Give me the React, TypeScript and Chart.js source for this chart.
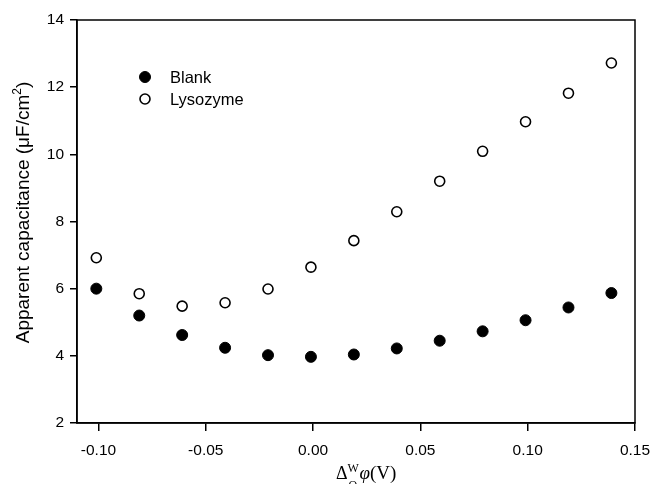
import React, { useEffect, useRef } from "react";
import { Chart, registerables } from "chart.js";

Chart.register(...registerables);

const potentials = [-0.101, -0.081, -0.061, -0.041, -0.021, -0.001, 0.019, 0.039, 0.059, 0.079, 0.099, 0.119, 0.139];
const blankValues = [6.0, 5.2, 4.62, 4.24, 4.02, 3.97, 4.04, 4.22, 4.45, 4.73, 5.06, 5.44, 5.87];
const lysozymeValues = [6.92, 5.85, 5.48, 5.58, 5.99, 6.64, 7.43, 8.29, 9.2, 10.09, 10.97, 11.82, 12.72];
const xTickValues = [-0.1, -0.05, 0, 0.05, 0.1, 0.15];
const yTickValues = [2, 4, 6, 8, 10, 12, 14];
const seriesNames = ["Blank", "Lysozyme"];

const SANS = "'Liberation Sans', Arial, sans-serif";
const SERIF = "'Liberation Serif', 'DejaVu Serif', serif";

const framePlugin = {
  id: "frame",
  afterDraw(chart: any) {
    const { ctx, chartArea } = chart;
    ctx.save();
    ctx.strokeStyle = "#000";
    ctx.lineWidth = 1.5;
    ctx.strokeRect(chartArea.left, chartArea.top, chartArea.right - chartArea.left, chartArea.bottom - chartArea.top);

    // legend
    const items = chart.data.datasets;
    const lx = chartArea.left + 68;
    let ly = chartArea.top + 57;
    ctx.font = `16.5px ${SANS}`;
    ctx.textBaseline = "middle";
    ctx.textAlign = "left";
    items.forEach((ds: any) => {
      ctx.beginPath();
      ctx.arc(lx, ly, ds.pointRadius, 0, Math.PI * 2);
      ctx.fillStyle = ds.pointBackgroundColor;
      ctx.fill();
      ctx.lineWidth = ds.pointBorderWidth;
      ctx.strokeStyle = ds.pointBorderColor;
      ctx.stroke();
      ctx.fillStyle = "#000";
      ctx.fillText(ds.label, lx + 25, ly + 1);
      ly += 22;
    });

    // x title: Δ^W_O φ(V)
    let x = 336;
    const base = 479;
    ctx.textBaseline = "alphabetic";
    ctx.font = `18px ${SERIF}`;
    ctx.fillText("Δ", x, base);
    x += ctx.measureText("Δ").width;
    ctx.font = `12px ${SERIF}`;
    ctx.fillText("W", x, base - 7);
    ctx.fillText("O", x + 1, base + 10);
    x += ctx.measureText("W").width + 0.5;
    ctx.font = `italic 19px ${SERIF}`;
    ctx.fillText("φ", x, base);
    x += ctx.measureText("φ").width;
    ctx.font = `19px ${SERIF}`;
    ctx.fillText("(V)", x, base);

    // y title: Apparent capacitance (μF/cm²)
    const main = "Apparent capacitance (μF/cm";
    const sup = "2";
    const close = ")";
    ctx.font = `19px ${SANS}`;
    const wMain = ctx.measureText(main).width;
    const wClose = ctx.measureText(close).width;
    ctx.font = `12px ${SANS}`;
    const wSup = ctx.measureText(sup).width;
    const total = wMain + wSup + wClose;
    ctx.translate(29, 212.5);
    ctx.rotate(-Math.PI / 2);
    let tx = -total / 2;
    ctx.font = `19px ${SANS}`;
    ctx.fillText(main, tx, 0);
    tx += wMain;
    ctx.font = `12px ${SANS}`;
    ctx.fillText(sup, tx, -8);
    tx += wSup;
    ctx.font = `19px ${SANS}`;
    ctx.fillText(close, tx, 0);
    ctx.restore();
  },
};

export default function App() {
  const canvasRef = useRef<HTMLCanvasElement | null>(null);

  useEffect(() => {
    document.body.style.margin = "0";
    const canvas = canvasRef.current;
    if (!canvas) return;
    const chart = new Chart(canvas, {
      type: "scatter",
      data: {
        datasets: [
          {
            label: seriesNames[0],
            data: potentials.map((x, i) => ({ x, y: blankValues[i] })),
            pointRadius: 5.5,
            pointBackgroundColor: "#000",
            pointBorderColor: "#000",
            pointBorderWidth: 1,
            showLine: false,
          } as any,
          {
            label: seriesNames[1],
            data: potentials.map((x, i) => ({ x, y: lysozymeValues[i] })),
            pointRadius: 5,
            pointBackgroundColor: "#fff",
            pointBorderColor: "#000",
            pointBorderWidth: 1.6,
            showLine: false,
          } as any,
        ],
      },
      options: {
        animation: false,
        responsive: false,
        devicePixelRatio: 1,
        layout: { padding: { top: 20, right: 16, left: 0, bottom: 0 } },
        plugins: {
          legend: { display: false },
          tooltip: { enabled: false },
        },
        scales: {
          x: {
            type: "linear",
            min: -0.11,
            max: 0.15,
            afterBuildTicks: (scale: any) => {
              scale.ticks = xTickValues.map((v) => ({ value: v }));
            },
            afterFit: (scale: any) => {
              scale.height = 61;
              scale.paddingLeft = 0;
              scale.paddingRight = 0;
            },
            grid: {
              drawOnChartArea: false,
              drawTicks: true,
              tickLength: 8,
              color: "#000",
              lineWidth: 1.5,
            },
            border: { display: true, color: "#000", width: 1.5 },
            ticks: {
              color: "#000",
              font: { family: SANS, size: 15.5 },
              padding: 10,
              maxRotation: 0,
              callback: (v: any) => Number(v).toFixed(2),
            },
          },
          y: {
            type: "linear",
            min: 2,
            max: 14,
            afterBuildTicks: (scale: any) => {
              scale.ticks = yTickValues.map((v) => ({ value: v }));
            },
            afterFit: (scale: any) => {
              scale.width = 77;
              scale.paddingTop = 0;
              scale.paddingBottom = 0;
            },
            grid: {
              drawOnChartArea: false,
              drawTicks: true,
              tickLength: 7,
              color: "#000",
              lineWidth: 1.5,
            },
            border: { display: true, color: "#000", width: 1.5 },
            ticks: {
              color: "#000",
              font: { family: SANS, size: 15.5 },
              padding: 6,
              callback: (v: any) => String(v),
            },
          },
        },
      },
      plugins: [framePlugin],
    } as any);
    return () => chart.destroy();
  }, []);

  return (
    <div style={{ position: "fixed", left: 0, top: 0, width: 651, height: 484 }}>
      <canvas ref={canvasRef} width={651} height={484} style={{ width: 651, height: 484 }} />
    </div>
  );
}
